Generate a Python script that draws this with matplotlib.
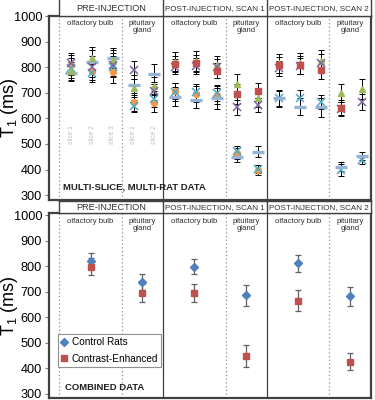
import matplotlib.pyplot as plt
import numpy as np

plt.rcParams['font.family'] = ['Liberation Sans', 'DejaVu Sans']

nan = np.nan

# top panel: 15 slots (pre olf s1-3, pre pit s1-2, scan1 olf s1-3, scan1 pit s1-2, scan2 olf s1-3, scan2 pit s1-2)
orange_circle = [809, 786, 782, 665, 659, 708, 695, 691, 463, 398, nan, nan, nan, nan, nan]
orange_err = [40, 38, 42, 35, 33, 32, 30, 34, 22, 18, nan, nan, nan, nan, nan]
cyan_x = [796, 776, 802, 648, 675, 704, 704, 700, 474, 402, 678, 678, 665, 398, 437]
cyan_err = [38, 35, 40, 25, 30, 35, 32, 32, 18, 15, 33, 32, 28, 22, 16]
blue_dash = [776, 822, 835, 730, 773, 685, 672, 678, 450, 470, 678, 646, 643, 411, 453]
blue_err = [30, 45, 40, 38, 38, 37, 30, 40, 20, 22, 30, 33, 36, 18, 17]
green_tri = [786, 835, 828, 718, 727, 822, 824, 809, 733, 678, 815, 815, 825, 700, 714]
green_err = [35, 42, 40, 35, 33, 38, 40, 36, 40, 35, 38, 40, 42, 36, 38]
purple_x = [815, 802, 809, 789, 708, 802, 805, 802, 643, 652, 796, 805, 815, 636, 665]
purple_err = [40, 40, 45, 37, 35, 30, 32, 30, 30, 26, 30, 32, 35, 26, 32]
red_square = [nan, nan, nan, nan, nan, 813, 815, 786, 695, 708, 809, 809, 789, 642, nan]
red_err = [nan, nan, nan, nan, nan, 30, 32, 30, 38, 30, 32, 35, 34, 30, nan]

slice_names = ['slice 1', 'slice 2', 'slice 3', 'slice 1', 'slice 2']

# bottom panel: 6 groups
control = [820, 737, 798, 685, 811, 681]
control_err = [32, 30, 31, 42, 33, 37]
contrast = [797, 694, 695, 448, 665, 425]
contrast_err = [33, 35, 36, 44, 42, 33]

regions = ['PRE-INJECTION', 'POST-INJECTION, SCAN 1', 'POST-INJECTION, SCAN 2']
tissues = ['olfactory bulb', 'pituitary\ngland']

region_edges = [0.5, 5.5, 10.5, 15.5]
tissue_edges = [3.5, 8.5, 13.5]
tissue_centers = [2.0, 4.5, 7.0, 9.5, 12.0, 14.5]
slot_x = np.arange(1, 16) + 0.07

frame_col = '#404040'

fig = plt.figure(figsize=(3.75, 4), dpi=100)
ax_top = fig.add_axes([49 / 375, 1 - 200 / 400, 322 / 375, 184 / 400])
ax_bot = fig.add_axes([49 / 375, 1 - 398 / 400, 322 / 375, 185 / 400])
hd_top = fig.add_axes([59.4 / 375, 1 - 16 / 400, (371 - 59.4) / 375, 16 / 400])
hd_bot = fig.add_axes([59.4 / 375, 1 - 213 / 400, (371 - 59.4) / 375, 12 / 400])

ax_top.set_ylim(281, 1000)
ax_bot.set_ylim(283, 1008)

for ax in (ax_top, ax_bot):
    ax.set_xlim(0, 15.5)
    ax.set_xticks([])
    ax.set_yticks(range(300, 1001, 100))
    ax.tick_params(axis='y', labelsize=9.2, length=3, color='#808080', pad=2)
    for s in ax.spines.values():
        s.set_color(frame_col)
        s.set_linewidth(1.6)
    for x in region_edges[1:-1]:
        ax.axvline(x, color=frame_col, lw=0.9)
    for x in [0.5] + tissue_edges:
        ax.axvline(x, color='#909090', lw=0.9, ls=(0, (1, 2)))
    ax.set_ylabel('T$_\\mathregular{1}$ (ms)', fontsize=13)
    ax.yaxis.set_label_coords(-0.09, 0.5)

for hd in (hd_top, hd_bot):
    hd.set_xlim(0.5, 15.5)
    hd.set_ylim(0, 1)
    hd.set_xticks([])
    hd.set_yticks([])
    for s in hd.spines.values():
        s.set_color(frame_col)
        s.set_linewidth(1.0)
    for x in region_edges[1:-1]:
        hd.axvline(x, color=frame_col, lw=1.0)
    for i, name in enumerate(regions):
        hd.text((region_edges[i] + region_edges[i + 1]) / 2, 0.45, name,
                ha='center', va='center',
                fontsize=6.6 if i == 0 else 5.8, color='#303030')
hd_top.spines['top'].set_visible(False)

# tissue labels
for ax, ytxt in ((ax_top, 985), (ax_bot, 990)):
    for i, c in enumerate(tissue_centers):
        ax.text(c, ytxt, tissues[i % 2], ha='center', va='top',
                fontsize=5.6, color='#303030', linespacing=1.0)

# slice labels
for i, name in enumerate(slice_names):
    ax_top.text(slot_x[i], 535, name, rotation=90, ha='center', va='center',
                fontsize=4.8, color='#c0c0c0')

series = [
    (orange_circle, orange_err, dict(marker='o', ms=4.2, color='#f79646')),
    (cyan_x, cyan_err, dict(marker='x', ms=6, mew=1.1, color='#4bacc6')),
    (blue_dash, blue_err, dict(marker='_', ms=9, mew=2.4, color='#95b3d7')),
    (green_tri, green_err, dict(marker='^', ms=5, color='#9bbb59')),
    (purple_x, purple_err, dict(marker='x', ms=6, mew=1.1, color='#8064a2')),
    (red_square, red_err, dict(marker='s', ms=4.2, color='#c0504d')),
]
for vals, errs, style in series:
    ax_top.errorbar(slot_x, vals, yerr=errs, fmt='none', ecolor='black',
                    elinewidth=0.7, capsize=2.2, capthick=0.7, zorder=2)
for vals, errs, style in series:
    ax_top.plot(slot_x, vals, ls='none', zorder=3, **style)

ax_top.text(0.68, 330, 'MULTI-SLICE, MULTI-RAT DATA', fontsize=6.8,
            fontweight='bold', ha='left', va='center', color='#202020')

# bottom panel
ax_bot.errorbar(tissue_centers, control, yerr=control_err, fmt='none',
                ecolor='#606060', elinewidth=0.9, capsize=2.5, capthick=0.9, zorder=2)
ax_bot.errorbar(tissue_centers, contrast, yerr=contrast_err, fmt='none',
                ecolor='#606060', elinewidth=0.9, capsize=2.5, capthick=0.9, zorder=2)
ax_bot.plot(tissue_centers, control, ls='none', marker='D', ms=4.2,
            color='#4f81bd', zorder=3, label='Control Rats')
ax_bot.plot(tissue_centers, contrast, ls='none', marker='s', ms=4.5,
            color='#c0504d', zorder=3, label='Contrast-Enhanced')

leg = ax_bot.legend(loc='lower left', bbox_to_anchor=(0.027, 0.168),
                    fontsize=7.2, frameon=True, fancybox=False, framealpha=1,
                    edgecolor='#909090', handlelength=0.6, handletextpad=0.5,
                    borderpad=0.3, labelspacing=0.65, borderaxespad=0)
leg.get_frame().set_linewidth(0.8)

ax_bot.text(0.75, 325, 'COMBINED DATA', fontsize=6.8, fontweight='bold',
            ha='left', va='center', color='#202020')

fig.savefig('out.png', dpi=100)
